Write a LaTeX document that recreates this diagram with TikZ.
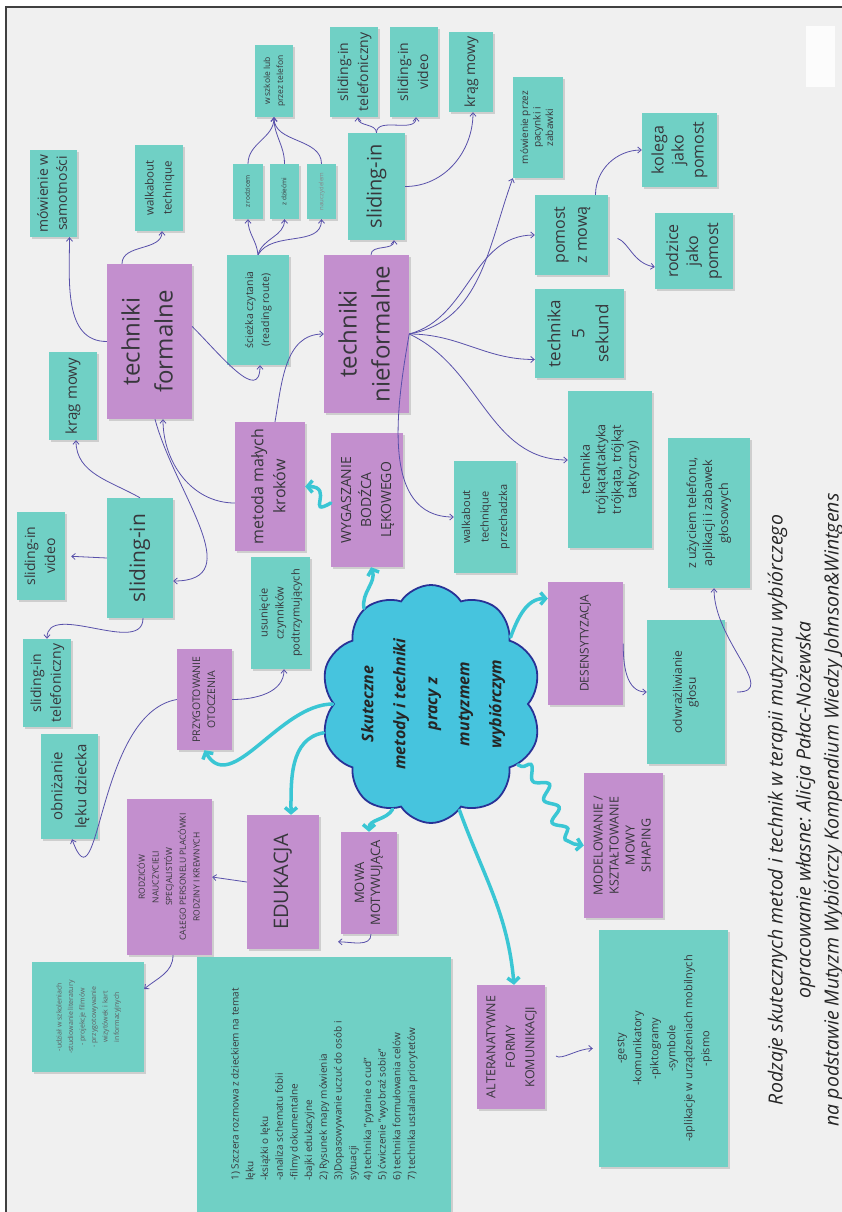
\documentclass[tikz,border=0pt]{standalone}
\usepackage{fontspec}
\setmainfont{Open Sans}
\usepackage{graphicx}
\usetikzlibrary{arrows.meta,shadows,shapes.symbols,decorations.pathmorphing}

\definecolor{notecol}{RGB}{112,208,197}
\definecolor{topiccol}{RGB}{195,143,206}
\definecolor{linkcol}{RGB}{88,80,170}
\definecolor{branchcol}{RGB}{58,198,212}
\definecolor{cloudcol}{RGB}{70,196,222}
\definecolor{cloudline}{RGB}{40,50,150}
\definecolor{paper}{RGB}{240,240,240}
\definecolor{inkcol}{RGB}{55,55,60}

\newcommand{\vtext}[1]{\rotatebox{90}{\begin{tabular}{@{}c@{}}#1\end{tabular}}}
\newcommand{\vtextl}[1]{\rotatebox{90}{\begin{tabular}{@{}l@{}}#1\end{tabular}}}
\newcommand{\fsz}[2]{\fontsize{#1}{#2}\selectfont}

\tikzset{
  notebox/.style={fill=notecol, inner sep=0pt, text=inkcol,
    drop shadow={shadow xshift=2pt,shadow yshift=-2pt,opacity=0.3}},
  topicbox/.style={fill=topiccol, inner sep=0pt, text=inkcol,
    drop shadow={shadow xshift=2pt,shadow yshift=-2pt,opacity=0.3}},
  linkedge/.style={draw=linkcol, line width=0.8pt, -{Straight Barb[length=3.5pt,width=6pt]}},
  branchedge/.style={draw=branchcol, line width=3.5pt, line cap=round,
    -{Straight Barb[length=5pt,width=12pt]}}
}

\begin{document}
\begin{tikzpicture}[x=1pt,y=1pt]
\useasboundingbox (0,0) rectangle (842,-1212);
\fill[white] (0,0) rectangle (842,-1212);
\fill[paper] (6,-7) rectangle (842,-1212);
\draw[line width=1.2pt, black!75] (6,-1212) -- (6,-7) -- (842,-7);
\fill[white, opacity=0.8] (806,-26) rectangle (835,-87);

% techniki formalne
\node[topicbox, minimum width=85pt, minimum height=155pt, font=\fsz{24}{33}] (tf) at (149.5,-341.5) {\vtext{techniki\\formalne}};
\node[notebox, minimum width=47pt, minimum height=87pt, font=\fsz{14}{19}] (msam) at (53.5,-193.5) {\vtext{mówienie w\\samotności}};
\node[notebox, minimum width=48pt, minimum height=86pt, font=\fsz{11.5}{18}] (walk1) at (159,-188) {\vtext{walkabout\\technique}};
\node[notebox, minimum width=62pt, minimum height=110pt, font=\fsz{10.5}{16}] (sciez) at (258,-310) {\vtext{ścieżka czytania\\(reading route)}};
\node[notebox, minimum width=30pt, minimum height=55pt, font=\fsz{6.5}{9}] (zrodz) at (248,-191.5) {\vtext{z rodzicem}};
\node[notebox, minimum width=29pt, minimum height=55pt, font=\fsz{6.5}{9}] (zdzieci) at (284.5,-191.5) {\vtext{z dziećmi}};
\node[notebox, minimum width=29pt, minimum height=55pt, font=\fsz{6}{9}, text=inkcol!60] (znau) at (321.5,-191.5) {\vtext{nauczycielem}};
\node[notebox, minimum width=38pt, minimum height=72pt, font=\fsz{8.5}{13}] (wszk) at (274,-81) {\vtext{w szkole lub\\przez telefon}};
\node[notebox, minimum width=48pt, minimum height=88pt, font=\fsz{15}{20}] (kmleft) at (73,-396) {\vtext{krąg mowy}};
\node[notebox, minimum width=66pt, minimum height=120pt, font=\fsz{21}{26}] (slleft) at (140,-558) {\vtext{sliding-in}};
\node[notebox, minimum width=48pt, minimum height=88pt, font=\fsz{14}{20}] (svleft) at (41,-556) {\vtext{sliding-in\\video}};
\node[notebox, minimum width=48pt, minimum height=88pt, font=\fsz{14}{20}] (sileft) at (47,-683) {\vtext{sliding-in\\telefoniczny}};

% techniki nieformalne
\node[topicbox, minimum width=85pt, minimum height=158pt, font=\fsz{24}{33}] (tn) at (366.5,-334) {\vtext{techniki\\nieformalne}};
\node[notebox, minimum width=57pt, minimum height=107pt, font=\fsz{20}{26}] (sltop) at (376.5,-186.5) {\vtext{sliding-in}};
\node[notebox, minimum width=48pt, minimum height=90pt, font=\fsz{14}{20}] (sitop) at (354,-72) {\vtext{sliding-in\\telefoniczny}};
\node[notebox, minimum width=48pt, minimum height=90pt, font=\fsz{14}{20}] (svtop) at (414,-72) {\vtext{sliding-in\\video}};
\node[notebox, minimum width=44pt, minimum height=80pt, font=\fsz{14}{20}] (kmtop) at (471,-72) {\vtext{krąg mowy}};
\node[notebox, minimum width=50pt, minimum height=101pt, font=\fsz{10}{12.5}] (pacyn) at (538,-127.5) {\vtext{mówienie przez\\pacynki i\\zabawki}};
\node[notebox, minimum width=73pt, minimum height=80pt, font=\fsz{16}{22}] (pomost) at (571.5,-235) {\vtext{pomost\\z mową}};
\node[notebox, minimum width=75pt, minimum height=74pt, font=\fsz{16}{20}] (koleg) at (679.5,-150) {\vtext{kolega\\jako\\pomost}};
\node[notebox, minimum width=78pt, minimum height=76pt, font=\fsz{16}{20}] (rodzp) at (694,-251) {\vtext{rodzice\\jako\\pomost}};
\node[notebox, minimum width=89pt, minimum height=89pt, font=\fsz{17}{24}] (sek5) at (579.5,-333.5) {\vtext{technika\\5\\sekund}};
\node[notebox, minimum width=84pt, minimum height=157pt, font=\fsz{12.5}{15.5}] (trojk) at (610,-469.5) {\vtext{technika\\trójkąta(taktyka\\trójkąta, trójkąt\\taktyczny)}};
\node[notebox, minimum width=62pt, minimum height=112pt, font=\fsz{11}{18.5}] (walk2) at (485,-517) {\vtext{walkabout\\technique\\przechadzka}};
\node[notebox, minimum width=82pt, minimum height=150pt, font=\fsz{12.5}{16}] (telef) at (709,-513) {\vtext{z użyciem telefonu,\\aplikacji i zabawek\\głosowych}};

% srodek
\node[topicbox, minimum width=70pt, minimum height=129pt, font=\fsz{16}{22}] (mmk) at (270,-486.5) {\vtext{metoda małych\\kroków}};
\node[topicbox, minimum width=72pt, minimum height=134pt, font=\fsz{14}{20}] (wyg) at (367,-500) {\vtext{WYGASZANIE\\BODŹCA\\LĘKOWEGO}};
\node[notebox, minimum width=59pt, minimum height=112pt, font=\fsz{11}{16}] (usun) at (280.5,-613) {\vtext{usunięcie\\czynników\\podtrzymujących}};
\node[topicbox, minimum width=55pt, minimum height=101pt, font=\fsz{10.5}{15}] (przyg) at (204.5,-699.5) {\vtext{PRZYGOTOWANIE\\OTOCZENIA}};
\node[notebox, minimum width=57pt, minimum height=105pt, font=\fsz{15}{24}] (obniz) at (69.5,-786.5) {\vtext{obniżanie\\lęku dziecka}};
\node[topicbox, minimum width=85pt, minimum height=156pt, font=\fsz{8.5}{13.7}] (rodzic) at (169.5,-877) {\vtext{RODZICÓW\\NAUCZYCIELI\\SPECJALISTÓW\\CAŁEGO PERSONELU PLACÓWKI\\RODZINY I KREWNYCH}};
\node[topicbox, minimum width=72pt, minimum height=134pt, font=\fsz{20}{26}] (eduk) at (283,-882) {\vtext{EDUKACJA}};
\node[topicbox, minimum width=56pt, minimum height=102pt, font=\fsz{13}{16}] (mowa) at (369,-883) {\vtext{MOWA\\MOTYWUJĄCA}};
\node[notebox, minimum width=112pt, minimum height=110pt, font=\fsz{7}{11.5}, text=inkcol!80] (udzial) at (88,-1017) {\vtext{-udział w szkoleniach\\-studiowanie literatury\\- projekcje filmów\\- przygotowywanie\\wizytówek i kart\\informacyjnych}};
\node[notebox, minimum width=254pt, minimum height=255pt, font=\fsz{10}{14.7}] (bigbox) at (324,-1084.5) {\vtextl{1) Szczera rozmowa z dzieckiem na temat\\lęku\\-książki o lęku\\-analiza schematu fobii\\-filmy dokumentalne\\-bajki edukacyjne\\2) Rysunek mapy mówienia\\3)Dopasowywanie uczuć do osób i\\sytuacji\\4) technika "pytanie o cud"\\5) ćwiczenie "wyobraź sobie"\\6) technika formułowania celów\\7) technika ustalania priorytetów}};
\node[topicbox, minimum width=75pt, minimum height=123pt, font=\fsz{12}{16}] (desens) at (585.5,-643.5) {\vtext{DESENSYTYZACJA}};
\node[notebox, minimum width=78pt, minimum height=144pt, font=\fsz{12}{14}] (odwr) at (686,-692) {\vtext{odwrażliwianie\\głosu}};
\node[topicbox, minimum width=79pt, minimum height=145pt, font=\fsz{12.5}{16}] (model) at (623.5,-845.5) {\vtext{MODELOWANIE /\\KSZTAŁTOWANIE\\MOWY\\SHAPING}};
\node[topicbox, minimum width=68pt, minimum height=124pt, font=\fsz{12.5}{19.5}] (alt) at (511,-1047) {\vtext{ALTERANATYWNE\\FORMY\\KOMUNIKACJI}};
\node[notebox, minimum width=129pt, minimum height=237pt, font=\fsz{11}{17}] (gesty) at (663.5,-1048.5) {\vtext{-gesty\\-komunikatory\\-piktogramy\\-symbole\\-aplikacje w urządzeniach mobilnych\\-pismo}};

% chmura
\node[cloud, cloud puffs=10, cloud puff arc=115, aspect=0.93, fill=cloudcol, draw=cloudline, line width=1.8pt, minimum width=221pt, minimum height=238pt, inner sep=0pt] (cloud) at (431,-704) {};
\node[font=\bfseries\itshape\fsz{16}{32}, text=black!85] (cloudtext) at (cloud.center) {\vtext{Skuteczne\\metody i techniki\\pracy z\\mutyzmem\\wybiórczym}};

\node[font=\itshape\fsz{19.5}{28}, text=black!85] (caption) at (805,-810) {\vtext{Rodzaje skutecznych metod i technik w terapii mutyzmu wybiórczego\\opracowanie własne: Alicja Pałac-Nożewska\\na podstawie Mutyzm Wybiórczy Kompendium Wiedzy Johnson\&Wintgens}};

% cienkie strzalki
\draw[linkedge] (tf.west) to[out=180,in=-90] ([xshift=16pt]msam.south);
\draw[linkedge] ([xshift=-27.5pt]tf.north) to[out=90,in=-90] ([xshift=3pt]walk1.south);
\draw[linkedge] ([yshift=15pt]tf.east) to[out=-45,in=-90,looseness=1.3] ([xshift=2pt]sciez.south);
\draw[linkedge] (sciez.north) to[out=95,in=-90] (zrodz.south);
\draw[linkedge] (sciez.north) to[out=75,in=-90] (zdzieci.south);
\draw[linkedge] (sciez.north) to[out=60,in=-90] (znau.south);
\draw[linkedge] (zrodz.north) to[out=90,in=-90] (wszk.south);
\draw[linkedge] (zdzieci.north) to[out=90,in=-90] (wszk.south);
\draw[linkedge] (znau.north) to[out=90,in=-90] (wszk.south);
\draw[linkedge] ([xshift=4.5pt]tn.north) to[out=90,in=-90] ([xshift=17.5pt]sltop.south);
\draw[linkedge] (sltop.north) to[out=90,in=-90] ([xshift=4pt]sitop.south);
\draw[linkedge] (sltop.north) to[out=90,in=-90] ([xshift=2pt]svtop.south);
\draw[linkedge] (sltop.east) to[out=0,in=-90] ([xshift=2pt]kmtop.south);
\draw[linkedge] (tn.east) to[out=10,in=-110] (pacyn.south west);
\draw[linkedge] (tn.east) to[out=15,in=180] (pomost.west);
\draw[linkedge] (tn.east) to[out=0,in=180] ([yshift=-26pt]sek5.west);
\draw[linkedge] (tn.east) to[out=-25,in=180] ([yshift=9.5pt]trojk.west);
\draw[linkedge] (tn.east) to[out=-100,in=180] (walk2.west);
\draw[linkedge] ([xshift=24pt]pomost.north) to[out=90,in=180] (koleg.west);
\draw[linkedge, shorten <=10pt] (pomost.east) to[out=-20,in=170] ([yshift=-16pt]rodzp.west);
\draw[linkedge] ([xshift=5pt]mmk.north) to[out=80,in=180] (tn.west);
\draw[linkedge] ([yshift=-16.5pt]mmk.west) to[out=180,in=-90] ([xshift=13.5pt]tf.south);
\draw[linkedge] ([xshift=5.5pt]tf.south) to[out=-75,in=0,looseness=1.2] ([yshift=-23pt]slleft.east);
\draw[linkedge] (slleft.north) to[out=150,in=-90] ([xshift=3pt]kmleft.south);
\draw[linkedge, shorten >=6pt] (slleft.west) -- (svleft.east);
\draw[linkedge] ([xshift=3pt]slleft.south) to[out=-90,in=90] (sileft.north);
\draw[linkedge] (przyg.east) to[out=0,in=-90] ([xshift=3.5pt]usun.south);
\draw[linkedge] (przyg.west) to[out=190,in=-70,looseness=1.2] ([xshift=2.5pt]obniz.south);
\draw[linkedge] (eduk.west) -- (rodzic.east);
\draw[linkedge] ([xshift=3.5pt]rodzic.south) to[out=-90,in=40] ([yshift=28pt]udzial.east);
\draw[linkedge] ([xshift=2pt]mowa.south) to[out=-90,in=0] ([shift={(14pt,15pt)}]bigbox.north);
\draw[linkedge, shorten <=14pt, shorten >=6pt] (alt.east) to[out=-40,in=180] (gesty.west);
\draw[linkedge] (desens.east) to[out=-90,in=180] (odwr.west);
\draw[linkedge, shorten <=12pt] (odwr.east) to[out=0,in=-90,looseness=1.3] ([xshift=5pt]telef.south);

% grube strzalki z chmury
\draw[branchedge] (cloud.125) to[out=100,in=-70] ([xshift=4pt]wyg.south);
\draw[branchedge] ([yshift=-3pt]wyg.west) to[out=210,in=0,looseness=2.5] (mmk.east);
\draw[branchedge] (cloud.40) to[out=70,in=180] ([yshift=45pt]desens.west);
\draw[branchedge, decorate, decoration={snake,amplitude=6pt,segment length=24pt,pre length=4pt,post length=10pt}] (cloud.-35) to[out=-20,in=180] (model.west);
\draw[branchedge] (cloud.-75) to[out=-70,in=95] ([xshift=3pt]alt.north);
\draw[branchedge] (cloud.-110) to[out=-120,in=90] (mowa.north);
\draw[branchedge] (cloud.195) to[out=190,in=90] ([xshift=8pt]eduk.north);
\draw[branchedge] (cloud.180) to[out=180,in=-60] (przyg.south);
\end{tikzpicture}
\end{document}
